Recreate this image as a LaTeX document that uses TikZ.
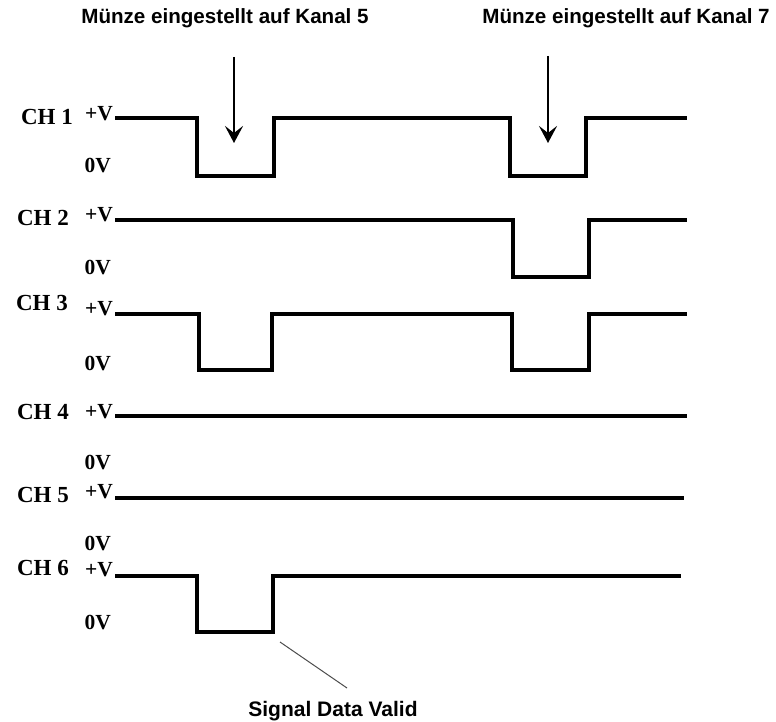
\documentclass[tikz,border=0pt]{standalone}
\usepackage{fontspec}
\setmainfont{Liberation Serif}
\setsansfont{Liberation Sans}
\usetikzlibrary{arrows.meta}
\begin{document}
\begin{tikzpicture}[x=1pt,y=-1pt,
  wave/.style={line width=4pt,line join=miter,line cap=butt},
  chlab/.style={font=\fontsize{23}{23}\selectfont\bfseries,anchor=east,inner sep=0pt},
  vlab/.style={font=\fontsize{21.5}{21.5}\selectfont\bfseries,anchor=east,inner sep=0pt},
  title/.style={font=\sffamily\bfseries\fontsize{20.6}{21}\selectfont,inner sep=0pt},
  coinarrow/.style={line width=2.5pt,-{Stealth[length=17pt,width=18pt,inset=7pt]}},
  leader/.style={line width=1pt,black!70}]
\useasboundingbox (0,0) rectangle (776,722);
% titles
\node[title] (t1) at (225,18) {Münze eingestellt auf Kanal 5};
\node[title] (t2) at (626,18) {Münze eingestellt auf Kanal 7};
% arrows
\coordinate (a1s) at (234,57); \coordinate (a1e) at (234,143);
\coordinate (a2s) at (548,56); \coordinate (a2e) at (548,143);
\draw[coinarrow] (a1s) -- (a1e);
\draw[coinarrow] (a2s) -- (a2e);
% labels
\node[chlab] (ch1) at (73,117) {CH 1};
\node[chlab] (ch2) at (69,218) {CH 2};
\node[chlab] (ch3) at (68,303) {CH 3};
\node[chlab] (ch4) at (69,412) {CH 4};
\node[chlab] (ch5) at (69,495) {CH 5};
\node[chlab] (ch6) at (69,568) {CH 6};
\foreach \y/\n in {114/1,215/2,309/3,412/4,492/5,570/6}
  \node[vlab] (pv\n) at (113,\y) {+V};
\foreach \y/\n in {166/1,268/2,364/3,463/4,544/5,623/6}
  \node[vlab] (zv\n) at (111,\y) {0V};
% waveforms
\draw[wave] (115,118) -- (197,118) -- (197,176) -- (274,176) -- (274,118) -- (510,118) -- (510,176) -- (586,176) -- (586,118) -- (687,118);
\draw[wave] (115,220) -- (513,220) -- (513,277) -- (589,277) -- (589,220) -- (687,220);
\draw[wave] (115,314) -- (199,314) -- (199,370) -- (272,370) -- (272,314) -- (512,314) -- (512,370) -- (589,370) -- (589,314) -- (687,314);
\draw[wave] (115,416) -- (687,416);
\draw[wave] (115,498) -- (684,498);
\draw[wave] (115,576) -- (197,576) -- (197,632) -- (273,632) -- (273,576) -- (681,576);
% signal data valid
\node[title,font=\sffamily\bfseries\fontsize{21}{21}\selectfont] (sdv) at (333,711) {Signal Data Valid};
\coordinate (l1) at (280,642); \coordinate (l2) at (347,688);
\draw[leader] (l1) -- (l2);
\end{tikzpicture}
\end{document}
